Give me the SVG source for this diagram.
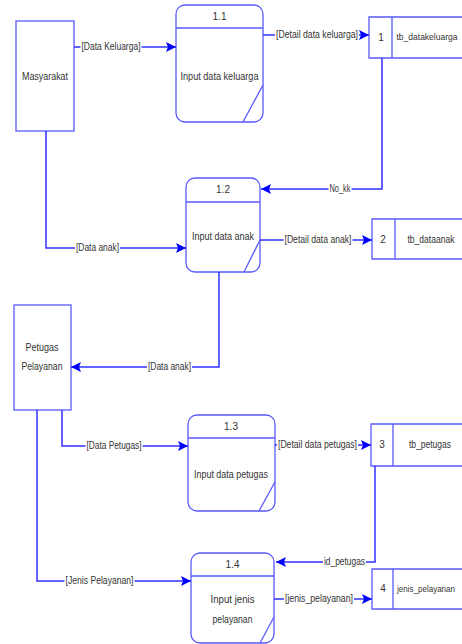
<svg xmlns="http://www.w3.org/2000/svg" width="462" height="644" viewBox="0 0 462 644">
<style>
.box{fill:#fff;stroke:#5a5aff;stroke-width:1.3}
.ln{fill:none;stroke:#3030ff;stroke-width:1.5}
.t{font-family:"Liberation Sans",Arial,sans-serif;font-size:10px;fill:#333;text-anchor:middle;dominant-baseline:middle}
.sm{font-size:9px}
.bg{fill:#fff}
</style>
<defs>
<marker id="ah" viewBox="0 0 10 10" refX="10" refY="5" markerWidth="10" markerHeight="10" markerUnits="userSpaceOnUse" orient="auto">
<path d="M0,0 L10,5 L0,10 L2,5 z" fill="#0000ff"/>
</marker>
</defs>
<rect width="462" height="644" fill="#fff"/>

<g id="masyarakat">
<rect class="box" x="16" y="21" width="58" height="110"/>
<text class="t" x="45" y="77" textLength="46" lengthAdjust="spacingAndGlyphs">Masyarakat</text>
</g>

<g id="petugas">
<rect class="box" x="14" y="305" width="57" height="105"/>
<text class="t" x="42" y="348" textLength="33" lengthAdjust="spacingAndGlyphs">Petugas</text>
<text class="t" x="42" y="367" textLength="41" lengthAdjust="spacingAndGlyphs">Pelayanan</text>
</g>

<g id="p11">
<rect class="box" x="176" y="5" width="87" height="117" rx="9"/>
<line class="box" x1="176" y1="28" x2="263" y2="28"/>
<line class="box" x1="243" y1="122" x2="263" y2="85"/>
<text class="t" x="219.5" y="17">1.1</text>
<text class="t" x="219.5" y="77" textLength="78" lengthAdjust="spacingAndGlyphs">Input data keluarga</text>
</g>

<g id="p12">
<rect class="box" x="186" y="178" width="74" height="94" rx="9"/>
<line class="box" x1="186" y1="202" x2="260" y2="202"/>
<line class="box" x1="244" y1="272" x2="260" y2="240"/>
<text class="t" x="223" y="190">1.2</text>
<text class="t" x="223" y="237" textLength="62" lengthAdjust="spacingAndGlyphs">Input data anak</text>
</g>

<g id="p13">
<rect class="box" x="188" y="415" width="87" height="96" rx="9"/>
<line class="box" x1="188" y1="438" x2="275" y2="438"/>
<line class="box" x1="259" y1="511" x2="275" y2="482"/>
<text class="t" x="231" y="427">1.3</text>
<text class="t" x="231" y="475" textLength="74" lengthAdjust="spacingAndGlyphs">Input data petugas</text>
</g>

<g id="p14">
<rect class="box" x="191" y="553" width="83" height="90" rx="9"/>
<line class="box" x1="191" y1="576" x2="274" y2="576"/>
<line class="box" x1="260" y1="643" x2="274" y2="617"/>
<text class="t" x="232.5" y="565">1.4</text>
<text class="t" x="232.5" y="600" textLength="44" lengthAdjust="spacingAndGlyphs">Input jenis</text>
<text class="t" x="232.5" y="620" textLength="40" lengthAdjust="spacingAndGlyphs">pelayanan</text>
</g>

<g id="s1">
<path class="box" d="M462,17 H369 V58 H462 M392,17 V58"/>
<text class="t" x="381" y="38">1</text>
<text class="t sm" x="427" y="38" textLength="61" lengthAdjust="spacingAndGlyphs">tb_datakeluarga</text>
</g>

<g id="s2">
<path class="box" d="M462,219 H372 V259 H462 M395,219 V259"/>
<text class="t" x="383" y="240">2</text>
<text class="t" x="431" y="240" textLength="47" lengthAdjust="spacingAndGlyphs">tb_dataanak</text>
</g>

<g id="s3">
<path class="box" d="M462,424 H371 V466 H462 M393,424 V466"/>
<text class="t" x="382" y="445">3</text>
<text class="t" x="430" y="445" textLength="42" lengthAdjust="spacingAndGlyphs">tb_petugas</text>
</g>

<g id="s4">
<path class="box" d="M462,569 H372 V609 H462 M393,569 V609"/>
<text class="t" x="383" y="589">4</text>
<text class="t sm" x="426" y="590" textLength="58" lengthAdjust="spacingAndGlyphs">jenis_pelayanan</text>
</g>

<g id="connectors">
<path class="ln" d="M74,47 H176" marker-end="url(#ah)"/>
<path class="ln" d="M263,35 H369" marker-end="url(#ah)"/>
<path class="ln" d="M382,58 V189 H261" marker-end="url(#ah)"/>
<path class="ln" d="M46,131 V248 H186" marker-end="url(#ah)"/>
<path class="ln" d="M260,240 H372" marker-end="url(#ah)"/>
<path class="ln" d="M219,272 V367 H71" marker-end="url(#ah)"/>
<path class="ln" d="M62,410 V446 H188" marker-end="url(#ah)"/>
<path class="ln" d="M37,410 V581 H191" marker-end="url(#ah)"/>
<path class="ln" d="M275,445 H371" marker-end="url(#ah)"/>
<path class="ln" d="M375,466 V562 H276" marker-end="url(#ah)"/>
<path class="ln" d="M274,599 H372" marker-end="url(#ah)"/>

<rect class="bg" x="80.5" y="41.5" width="61" height="11"/>
<text class="t" x="111" y="47" textLength="59" lengthAdjust="spacingAndGlyphs">[Data Keluarga]</text>
<rect class="bg" x="275" y="29.5" width="84" height="11"/>
<text class="t" x="317" y="35" textLength="82" lengthAdjust="spacingAndGlyphs">[Detail data keluarga]</text>
<rect class="bg" x="328.5" y="183.5" width="23" height="11"/>
<text class="t" x="340" y="189" textLength="21" lengthAdjust="spacingAndGlyphs">No_kk</text>
<rect class="bg" x="75" y="242.5" width="45" height="11"/>
<text class="t" x="97.5" y="248" textLength="43" lengthAdjust="spacingAndGlyphs">[Data anak]</text>
<rect class="bg" x="283.5" y="234.5" width="69" height="11"/>
<text class="t" x="318" y="240" textLength="67" lengthAdjust="spacingAndGlyphs">[Detail data anak]</text>
<rect class="bg" x="147" y="361.5" width="45" height="11"/>
<text class="t" x="169.5" y="367" textLength="43" lengthAdjust="spacingAndGlyphs">[Data anak]</text>
<rect class="bg" x="85.5" y="440.5" width="57" height="11"/>
<text class="t" x="114" y="446" textLength="55" lengthAdjust="spacingAndGlyphs">[Data Petugas]</text>
<rect class="bg" x="64.5" y="575.5" width="70" height="11"/>
<text class="t" x="99.5" y="581" textLength="68" lengthAdjust="spacingAndGlyphs">[Jenis Pelayanan]</text>
<rect class="bg" x="277" y="439.5" width="81" height="11"/>
<text class="t" x="317.5" y="445" textLength="79" lengthAdjust="spacingAndGlyphs">[Detail data petugas]</text>
<rect class="bg" x="323" y="556.5" width="43" height="11"/>
<text class="t" x="344.5" y="562" textLength="41" lengthAdjust="spacingAndGlyphs">id_petugas</text>
<rect class="bg" x="284" y="593.5" width="70" height="11"/>
<text class="t" x="319" y="599" textLength="68" lengthAdjust="spacingAndGlyphs">[jenis_pelayanan]</text>
</g>
</svg>
